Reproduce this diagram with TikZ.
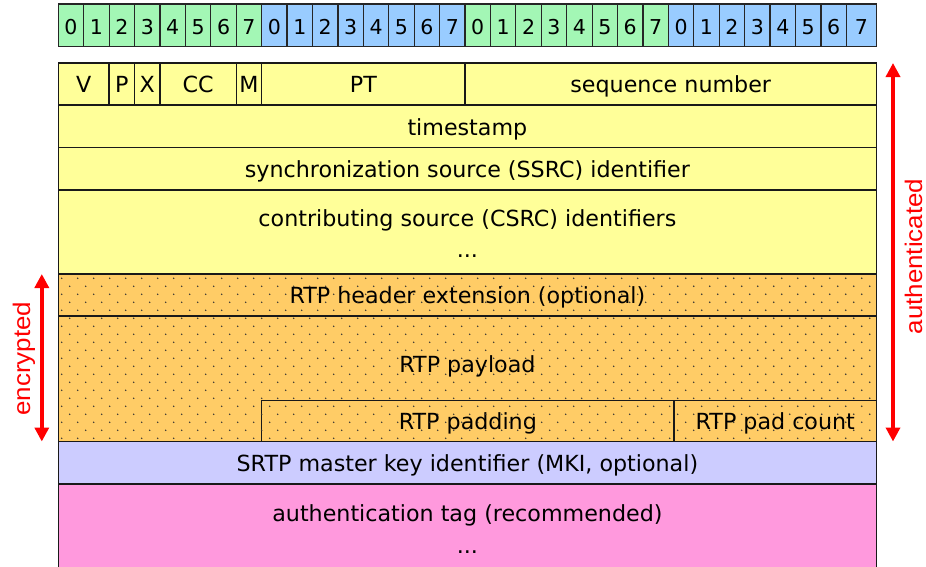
\documentclass[tikz,border=0pt]{standalone}
\usepackage{fontspec}
\setmainfont{DejaVu Sans}
\newfontfamily\labelfont[FakeStretch=1.08]{Liberation Sans}
\usetikzlibrary{arrows.meta}

\definecolor{fieldyellow}{HTML}{FFFF99}
\definecolor{bitgreen}{HTML}{A3F7B5}
\definecolor{bitblue}{HTML}{99CCFF}
\definecolor{encorange}{HTML}{FFCC66}
\definecolor{mkiblue}{HTML}{CCCCFF}
\definecolor{tagpink}{HTML}{FF99DD}
\definecolor{markred}{HTML}{FF0000}

% one packet field: name, left, top, right, bottom, fill, text
\newcommand\fieldbox[7]{%
  \node[field, fill=#6, minimum width={#4-#2}, minimum height={#5-#3}] (#1) at (#2,#3) {#7};}

\begin{document}
\begin{tikzpicture}[x=1pt,y=-1pt,
  every node/.style={inner sep=0pt, outer sep=0pt},
  cell/.style={draw=black!85, line width=1.2pt, anchor=north west,
    text height=18.5pt, text depth=0pt, font=\fontsize{20.5}{24}\selectfont},
  field/.style={draw=black!90, line width=1.3pt, anchor=north west,
    text height=17.6pt, text depth=0pt, font=\fontsize{22.2}{26}\selectfont},
  lbl/.style={anchor=base, font=\fontsize{22.2}{26}\selectfont},
  span/.style={draw=markred, line width=3.4pt,
    {Triangle[width=14pt,length=14pt]}-{Triangle[width=14pt,length=14pt]}},
  spanlbl/.style={anchor=base, rotate=90, text=markred,
    font=\labelfont\fontsize{24}{28}\selectfont},
  dotfill/.style={fill=black!80}
]
\useasboundingbox (0,0) rectangle (926,566);

% bit ruler: four octets, alternating green and blue
\foreach \i in {0,...,31} {
  \pgfmathsetmacro\xa{58.3+25.42*\i}
  \pgfmathsetmacro\xb{\i==31 ? 876.5 : 58.3+25.42*(\i+1)}
  \pgfmathtruncatemacro\bit{mod(\i,8)}
  \pgfmathtruncatemacro\grp{mod(div(\i,8),2)}
  \ifnum\grp=0 \def\cc{bitgreen}\else\def\cc{bitblue}\fi
  \node[cell, fill=\cc, minimum width={\xb-\xa}, minimum height=42.5] (b\i) at (\xa,4) {\bit};
}

% RTP header
\fieldbox{ver}{58.3}{63}{109.1}{105}{fieldyellow}{V}
\fieldbox{pflag}{109.1}{63}{134.6}{105}{fieldyellow}{P}
\fieldbox{xflag}{134.6}{63}{160}{105}{fieldyellow}{X}
\fieldbox{cc}{160}{63}{236.2}{105}{fieldyellow}{CC}
\fieldbox{mflag}{236.2}{63}{261.7}{105}{fieldyellow}{M}
\fieldbox{ptype}{261.7}{63}{465}{105}{fieldyellow}{PT}
\fieldbox{seq}{465}{63}{876.5}{105}{fieldyellow}{sequence number}
\fieldbox{ts}{58.3}{105}{876.5}{147.5}{fieldyellow}{timestamp}
\fieldbox{ssrc}{58.3}{147.5}{876.5}{190}{fieldyellow}{synchronization source (SSRC) identifier}
\fieldbox{csrc}{58.3}{190}{876.5}{274}{fieldyellow}{}
\node[lbl] (csrc-l1) at (467.4,226) {contributing source (CSRC) identifiers};
\node[lbl] (csrc-l2) at (467.4,257) {...};

% encrypted part
\fieldbox{hext}{58.3}{274}{876.5}{316}{encorange}{RTP header extension (optional)}
\fieldbox{payload}{58.3}{316}{876.5}{441.5}{encorange}{}
\fieldbox{padding}{261.7}{400.5}{674}{441.5}{encorange}{RTP padding}
\fieldbox{padcount}{674}{400.5}{876.5}{441.5}{encorange}{RTP pad count}
\node[lbl] (payload-l) at (467.4,372) {RTP payload};

% dotted texture over the encrypted part
\begin{scope}
  \clip (hext.north west) rectangle (payload.south east);
  \foreach \k in {-13,...,7} {
    \pgfmathsetmacro\yy{382.3+8*\k}
    \pgfmathsetmacro\xo{645.7-8*mod(abs(\k),2)}
    \foreach \m in {-37,...,15} {
      \fill[dotfill] (\xo+16*\m,\yy) circle (0.85pt);
    }
  }
\end{scope}

% SRTP trailer
\fieldbox{mki}{58.3}{441.5}{876.5}{484}{mkiblue}{SRTP master key identifier (MKI, optional)}
\fieldbox{tag}{58.3}{484}{876.5}{580}{tagpink}{}
\node[lbl] (tag-l1) at (467.4,521) {authentication tag (recommended)};
\node[lbl] (tag-l2) at (467.4,553) {...};

% coverage markers
\coordinate (auth-top) at ([xshift=16.5pt]seq.north east);
\coordinate (auth-bot) at ([xshift=16.5pt]padcount.south east);
\coordinate (enc-top) at ([xshift=-16.5pt]hext.north west);
\coordinate (enc-bot) at ([xshift=-16.5pt]payload.south west);
\draw[span] (auth-top) -- (auth-bot);
\draw[span] (enc-top) -- (enc-bot);
\node[spanlbl] (auth-lbl) at (922,256.5) {authenticated};
\node[spanlbl] (enc-lbl) at (30,358.5) {encrypted};
\end{tikzpicture}
\end{document}
